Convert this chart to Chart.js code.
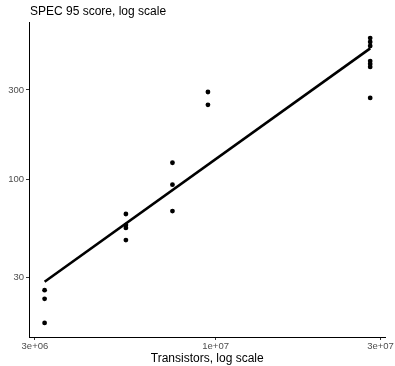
<!DOCTYPE html>
<html>
<head>
<meta charset="utf-8">
<script src="https://cdn.jsdelivr.net/npm/chart.js@4/dist/chart.umd.min.js"></script>
<style>
  html, body { margin: 0; padding: 0; background: #ffffff; }
  canvas { display: block; }
</style>
</head>
<body>
<canvas id="c" width="395" height="366"></canvas>
<script>
// ---- data ----
const transistors = [3.2e6, 3.2e6, 3.2e6, 5.5e6, 5.5e6, 5.5e6, 5.5e6, 7.5e6, 7.5e6, 7.5e6, 9.5e6, 9.5e6,
                     2.8e7, 2.8e7, 2.8e7, 2.8e7, 2.8e7, 2.8e7, 2.8e7];
const specScores  = [25.6, 23.0, 17.1, 65.3, 57.0, 55.0, 47.4, 122.6, 93.6, 67.7, 292.5, 250,
                     568, 541, 515, 428, 413, 398, 272];
const fitX = [3.2e6, 2.8e7];
const fitY = [28.4, 500];
const xTickValues = [3e6, 1e7, 3e7];
const xTickLabels = ["3e+06", "1e+07", "3e+07"];
const yTickValues = [30, 100, 300];
const yTickLabels = ["30", "100", "300"];
const titleText = "SPEC 95 score, log scale";
const xTitleText = "Transistors, log scale";

const FONT = "'Liberation Sans', Arial, Helvetica, sans-serif";

const titlePlugin = {
  id: 'leftTitle',
  afterDraw(chart) {
    const ctx = chart.ctx;
    ctx.save();
    ctx.font = "12px " + FONT;
    ctx.fillStyle = "#000000";
    ctx.textAlign = "left";
    ctx.textBaseline = "middle";
    ctx.fillText(titleText, chart.chartArea.left + 1, 11.5);
    ctx.restore();
  }
};

new Chart(document.getElementById('c'), {
  type: 'scatter',
  data: {
    datasets: [
      {
        type: 'line',
        data: fitX.map((x, i) => ({ x: x, y: fitY[i] })),
        borderColor: '#000000',
        borderWidth: 2.6,
        pointRadius: 0,
        fill: false,
        order: 1
      },
      {
        data: transistors.map((x, i) => ({ x: x, y: specScores[i] })),
        backgroundColor: '#000000',
        borderColor: '#000000',
        pointRadius: 2.4,
        borderWidth: 0,
        order: 0
      }
    ]
  },
  options: {
    responsive: false,
    animation: false,
    events: [],
    layout: { padding: { top: 22, right: 8, left: 0, bottom: 0 } },
    plugins: { legend: { display: false }, tooltip: { enabled: false }, title: { display: false } },
    scales: {
      x: {
        type: 'logarithmic',
        min: 2.884e6,
        max: 3.10e7,
        afterBuildTicks: s => { s.ticks = xTickValues.map(v => ({ value: v })); },
        afterFit: s => { s.height = 29; },
        ticks: {
          autoSkip: false, maxRotation: 0, minRotation: 0, padding: 1,
          color: '#4d4d4d', font: { family: FONT, size: 9.5 },
          callback: (v) => { const i = xTickValues.indexOf(v); return i >= 0 ? xTickLabels[i] : ''; }
        },
        grid: { display: true, drawOnChartArea: false, drawTicks: true, tickLength: 3, color: '#333333', lineWidth: 1 },
        border: { display: true, color: '#000000', width: 1 },
        title: { display: true, text: xTitleText, color: '#000000', font: { family: FONT, size: 12 }, padding: { top: 0, bottom: 0 } }
      },
      y: {
        type: 'logarithmic',
        min: 14.39,
        max: 691.8,
        afterBuildTicks: s => { s.ticks = yTickValues.map(v => ({ value: v })); },
        afterFit: s => { s.width = 29; },
        ticks: {
          autoSkip: false, padding: 2,
          color: '#4d4d4d', font: { family: FONT, size: 9.5 },
          callback: (v) => { const i = yTickValues.indexOf(v); return i >= 0 ? yTickLabels[i] : ''; }
        },
        grid: { display: true, drawOnChartArea: false, drawTicks: true, tickLength: 3, color: '#333333', lineWidth: 1 },
        border: { display: true, color: '#000000', width: 1 }
      }
    }
  },
  plugins: [titlePlugin]
});
</script>
</body>
</html>
